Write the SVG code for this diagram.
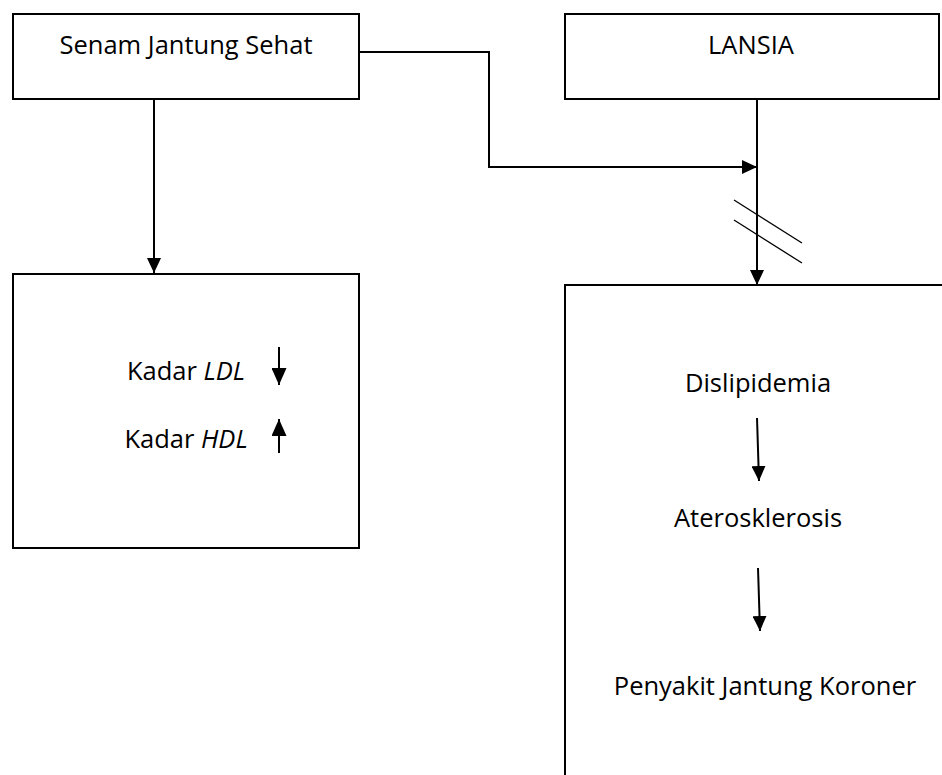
<svg xmlns="http://www.w3.org/2000/svg" width="942" height="775" viewBox="0 0 942 775">
<style>
.box{fill:#fff;stroke:#000;stroke-width:2}
.t{font-family:"Open Sans","Liberation Sans",sans-serif;font-size:25.5px;fill:#000;text-anchor:middle}
.ln{fill:none;stroke:#000;stroke-width:2}
.thin{fill:none;stroke:#000;stroke-width:1.3}
</style>
<defs>
<marker id="ah" viewBox="0 0 15 14" refX="15" refY="7" markerWidth="15" markerHeight="14" markerUnits="userSpaceOnUse" orient="auto">
<path d="M0,0 L15,7 L0,14 Z" fill="#000"/>
</marker>
<marker id="ahs" viewBox="0 0 17 15" refX="17" refY="7.5" markerWidth="17" markerHeight="15" markerUnits="userSpaceOnUse" orient="auto">
<path d="M0,0 L17,7.5 L0,15 Z" fill="#000"/>
</marker>
</defs>
<rect width="942" height="775" fill="#fff"/>
<g id="senam">
<rect class="box" x="13" y="14" width="346" height="85"/>
<text class="t" x="186" y="54">Senam Jantung Sehat</text>
</g>
<g id="lansia">
<rect class="box" x="565" y="14" width="374" height="85"/>
<text class="t" x="751" y="54">LANSIA</text>
</g>
<g id="kadar">
<rect class="box" x="13" y="274" width="346" height="274"/>
<text class="t" x="186" y="380">Kadar <tspan font-style="italic">LDL</tspan></text>
<text class="t" x="186" y="448">Kadar <tspan font-style="italic">HDL</tspan></text>
<line class="ln" x1="279" y1="347" x2="279" y2="385" stroke-width="2.4" marker-end="url(#ahs)"/>
<line class="ln" x1="279" y1="453" x2="279" y2="419" stroke-width="2.4" marker-end="url(#ahs)"/>
</g>
<g id="penyakit">
<rect class="box" x="565" y="285" width="400" height="520"/>
<text class="t" x="758" y="392">Dislipidemia</text>
<text class="t" x="758" y="527">Aterosklerosis</text>
<text class="t" x="765" y="695">Penyakit Jantung Koroner</text>
<line class="ln" x1="757" y1="418" x2="759" y2="481" marker-end="url(#ah)"/>
<line class="ln" x1="758" y1="568" x2="760" y2="631" marker-end="url(#ah)"/>
</g>
<g id="connectors">
<line class="ln" x1="154" y1="99" x2="154" y2="273" marker-end="url(#ah)"/>
<polyline class="ln" points="359,52 489,52 489,167 757,167" marker-end="url(#ah)"/>
<line class="ln" x1="757" y1="99" x2="757" y2="285" marker-end="url(#ah)"/>
<line class="thin" x1="734" y1="200" x2="802" y2="243"/>
<line class="thin" x1="734" y1="220" x2="802" y2="263"/>
</g>
</svg>
